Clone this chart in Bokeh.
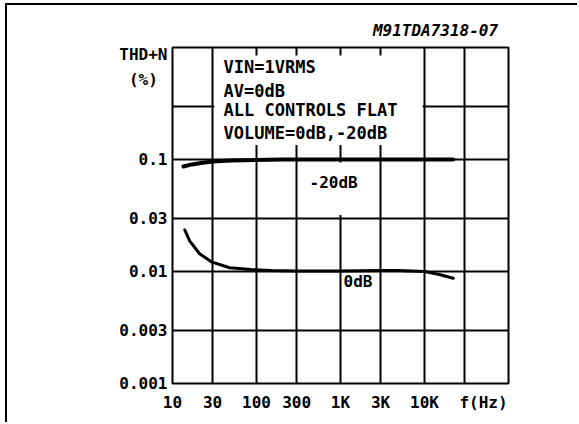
from bokeh.plotting import figure
from bokeh.models import FixedTicker, Label, BoxAnnotation, LogAxis
from bokeh.embed import file_html
from bokeh.resources import INLINE

# ---- data ----
x_grid = [10, 30, 100, 300, 1000, 3000, 10000, 30000, 100000]
x_ticks = [10, 30, 100, 300, 1000, 3000, 10000, 50400]
x_tick_labels = ["10", "30", "100", "300", "1K", "3K", "10K", "f(Hz)"]
y_grid = [0.001, 0.003, 0.01, 0.03, 0.1, 0.3, 1]
y_ticks = [0.001, 0.003, 0.01, 0.03, 0.1, 0.866, 0.518]
y_tick_labels = ["0.001", "0.003", "0.01", "0.03", "0.1", "THD+N", "(%)\u00a0"]

freq_m20 = [13.5, 17, 22, 30, 50, 100, 200, 1000, 10000, 22000]
thd_m20 = [0.0866, 0.0904, 0.093, 0.096, 0.098, 0.099, 0.1, 0.1, 0.1, 0.1]

freq_0 = [14, 16, 21, 29, 48, 86, 150, 300, 1000, 3000, 5000, 10000, 15000, 22000]
thd_0 = [0.0235, 0.0188, 0.0144, 0.0122, 0.0108, 0.0104, 0.0102, 0.0101,
         0.0101, 0.0102, 0.0102, 0.0100, 0.0094, 0.0087]

info_lines = ["VIN=1VRMS", "AV=0dB", "ALL CONTROLS FLAT", "VOLUME=0dB,-20dB"]
code_tick = [13520]
code_label = ["M91TDA7318-07"]

FONT = "DejaVu Sans Mono"

# canvas origin sits at page (7, 5) because of margin + border
p = figure(width=572, height=419, x_axis_type="log", y_axis_type="log",
           x_range=(10, 100000), y_range=(0.001, 1),
           output_backend="svg", toolbar_location=None, tools="", title=None,
           min_border_left=165, min_border_right=71, min_border_top=42,
           min_border_bottom=41)
p.margin = (3, 0, 0, 5)
p.styles = {"border-top": "2px solid black", "border-left": "2px solid black"}
p.background_fill_color = "white"
p.border_fill_color = "white"
p.outline_line_color = "black"
p.outline_line_width = 2

def style_axis(ax, ticks, labels, size="16px", fstyle="bold"):
    ax.ticker = FixedTicker(ticks=ticks, minor_ticks=[])
    ax.major_label_overrides = {t: l for t, l in zip(ticks, labels)}
    ax.axis_line_color = None
    ax.major_tick_in = 0
    ax.major_tick_out = 0
    ax.minor_tick_line_color = None
    ax.major_label_text_font = FONT
    ax.major_label_text_font_style = fstyle
    ax.major_label_text_font_size = size
    ax.major_label_text_color = "black"

style_axis(p.xaxis[0], x_ticks, x_tick_labels)
style_axis(p.yaxis[0], y_ticks, y_tick_labels)
p.xaxis.major_label_standoff = 9
p.yaxis.major_label_standoff = 5

top_axis = LogAxis()
style_axis(top_axis, code_tick, code_label, size="16px", fstyle="bold italic")
top_axis.major_label_standoff = 8
p.add_layout(top_axis, "above")

p.xgrid[0].ticker = FixedTicker(ticks=x_grid, minor_ticks=[])
p.ygrid[0].ticker = FixedTicker(ticks=y_grid, minor_ticks=[])
for g in (p.xgrid[0], p.ygrid[0]):
    g.grid_line_color = "black"
    g.grid_line_width = 2
    g.grid_line_alpha = 1

p.line(freq_m20, thd_m20, line_color="black", line_width=4, line_cap="round")
p.line(freq_0, thd_0, line_color="black", line_width=3, line_cap="round")

# white patches behind the texts
p.add_layout(BoxAnnotation(left=31.5, right=9500, bottom=0.135, top=0.85,
                           fill_color="white", fill_alpha=1, line_color=None))
p.add_layout(BoxAnnotation(left=320, right=2850, bottom=0.032, top=0.094,
                           fill_color="white", fill_alpha=1, line_color=None))

def lab(x, y, text, align="left", size="16px", style="bold"):
    p.add_layout(Label(x=x, y=y, text=text, text_align=align,
                       text_baseline="middle", text_font=FONT,
                       text_font_style=style, text_font_size=size,
                       text_color="black"))

for yy, t in zip([0.676, 0.413, 0.274, 0.174], info_lines):
    lab(40.5, yy, t, size="17px")

lab(428, 0.0624, "-20dB")
lab(1086, 0.00814, "0dB")

open("out.html", "w").write(file_html(p, INLINE))
